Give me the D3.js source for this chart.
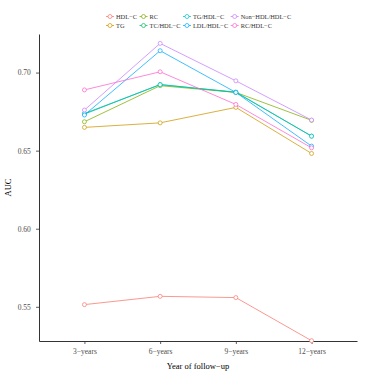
<!DOCTYPE html>
<html>
<head>
<meta charset="utf-8">
<script src="https://cdn.jsdelivr.net/npm/d3@7"></script>
<style>
  body { margin: 0; background: #fff; }
  text { font-family: "Liberation Serif", "DejaVu Serif", serif; }
</style>
</head>
<body>
<div id="chart"></div>
<script>
// follow-up years on x
const years = ['3\u2212years', '6\u2212years', '9\u2212years', '12\u2212years'];
const yTicks = [0.55, 0.60, 0.65, 0.70];

const indices = ['HDL\u2212C', 'TG', 'RC', 'TC/HDL\u2212C', 'TG/HDL\u2212C', 'LDL/HDL\u2212C', 'Non\u2212HDL/HDL\u2212C', 'RC/HDL\u2212C'];
const colors = ['#F8766D', '#CD9600', '#7CAE00', '#00BE67', '#00BFC4', '#00A9FF', '#C77CFF', '#FF61CC'];

// AUC per index
const hdlc = [0.5514, 0.5567, 0.5559, 0.5283];
const tg = [0.6649, 0.6678, 0.6777, 0.6482];
const rc = [0.6685, 0.6916, 0.6873, 0.6694];
const tcHdl = [0.6734, 0.6924, 0.6873, 0.6593];
const tgHdl = [0.6738, 0.6922, 0.6875, 0.6593];
const ldlHdl = [0.6728, 0.7140, 0.6873, 0.6529];
const nonHdl = [0.6760, 0.7187, 0.6947, 0.6696];
const rcHdl = [0.6889, 0.7005, 0.6796, 0.6518];

const series = [hdlc, tg, rc, tcHdl, tgHdl, ldlHdl, nonHdl, rcHdl];

const width = 372, height = 375;
const margin = { top: 34, right: 15, bottom: 34, left: 39 };

const svg = d3.select('#chart')
  .append('svg')
  .attr('width', width)
  .attr('height', height);

const x = d3.scalePoint()
  .domain(years)
  .range([margin.left, width - margin.right])
  .padding(0.6);

const y = d3.scaleLinear()
  .domain([0.5281, 0.7247])
  .range([height - margin.bottom, margin.top]);

// axes
const xAxis = svg.append('g')
  .attr('transform', `translate(0, ${height - margin.bottom})`)
  .call(d3.axisBottom(x).tickSize(3).tickSizeOuter(0));

const yAxis = svg.append('g')
  .attr('transform', `translate(${margin.left}, 0)`)
  .call(d3.axisLeft(y).tickValues(yTicks).tickFormat(d3.format('.2f')).tickSize(3).tickSizeOuter(0));

[xAxis, yAxis].forEach(g => {
  g.select('.domain').attr('stroke', '#333').attr('stroke-width', 1);
  g.selectAll('.tick line').attr('stroke', '#333').attr('stroke-width', 0.8);
  g.selectAll('.tick text')
    .attr('fill', '#4d4d4d')
    .style('font-family', '"Liberation Serif", serif')
    .style('font-size', '7.5px');
});
xAxis.selectAll('.tick text').attr('dy', '0.9em');
yAxis.selectAll('.tick text').attr('dx', '-0.3em');

// axis titles
svg.append('text')
  .attr('x', (margin.left + width - margin.right) / 2)
  .attr('y', 368.5)
  .attr('text-anchor', 'middle')
  .style('font-size', '8.5px')
  .text('Year of follow\u2212up');

svg.append('text')
  .attr('transform', `translate(11, ${(margin.top + height - margin.bottom) / 2}) rotate(-90)`)
  .attr('text-anchor', 'middle')
  .style('font-size', '8.5px')
  .text('AUC');

// lines and points
const line = d3.line()
  .x((d, i) => x(years[i]))
  .y(d => y(d));

series.forEach((vals, k) => {
  svg.append('path')
    .datum(vals)
    .attr('d', line)
    .attr('fill', 'none')
    .attr('stroke', colors[k])
    .attr('stroke-width', 1)
    .attr('stroke-opacity', 0.75);

  svg.selectAll(null)
    .data(vals)
    .enter()
    .append('circle')
    .attr('cx', (d, i) => x(years[i]))
    .attr('cy', d => y(d))
    .attr('r', 2)
    .attr('fill', '#fff')
    .attr('stroke', colors[k])
    .attr('stroke-opacity', 0.8)
    .attr('stroke-width', 0.9);
});

// legend, 2 rows filled by column
const legend = svg.append('g').attr('transform', 'translate(106, 0)');
const rowY = [16.5, 25.5];
let colX = 0;
for (let c = 0; c < 4; c++) {
  let maxW = 0;
  for (let r = 0; r < 2; r++) {
    const k = c * 2 + r;
    const g = legend.append('g').attr('transform', `translate(${colX}, ${rowY[r]})`);
    g.append('line')
      .attr('x1', 0).attr('x2', 8)
      .attr('stroke', colors[k]).attr('stroke-opacity', 0.75).attr('stroke-width', 1);
    g.append('circle')
      .attr('cx', 4).attr('r', 2)
      .attr('fill', '#fff')
      .attr('stroke', colors[k]).attr('stroke-opacity', 0.8).attr('stroke-width', 0.9);
    const t = g.append('text')
      .attr('x', 10)
      .attr('dy', '0.33em')
      .attr('fill', '#333')
      .style('font-size', '6.4px')
      .text(indices[k]);
    maxW = Math.max(maxW, t.node().getComputedTextLength());
  }
  colX += 10 + maxW + 2.5;
}
</script>
</body>
</html>
